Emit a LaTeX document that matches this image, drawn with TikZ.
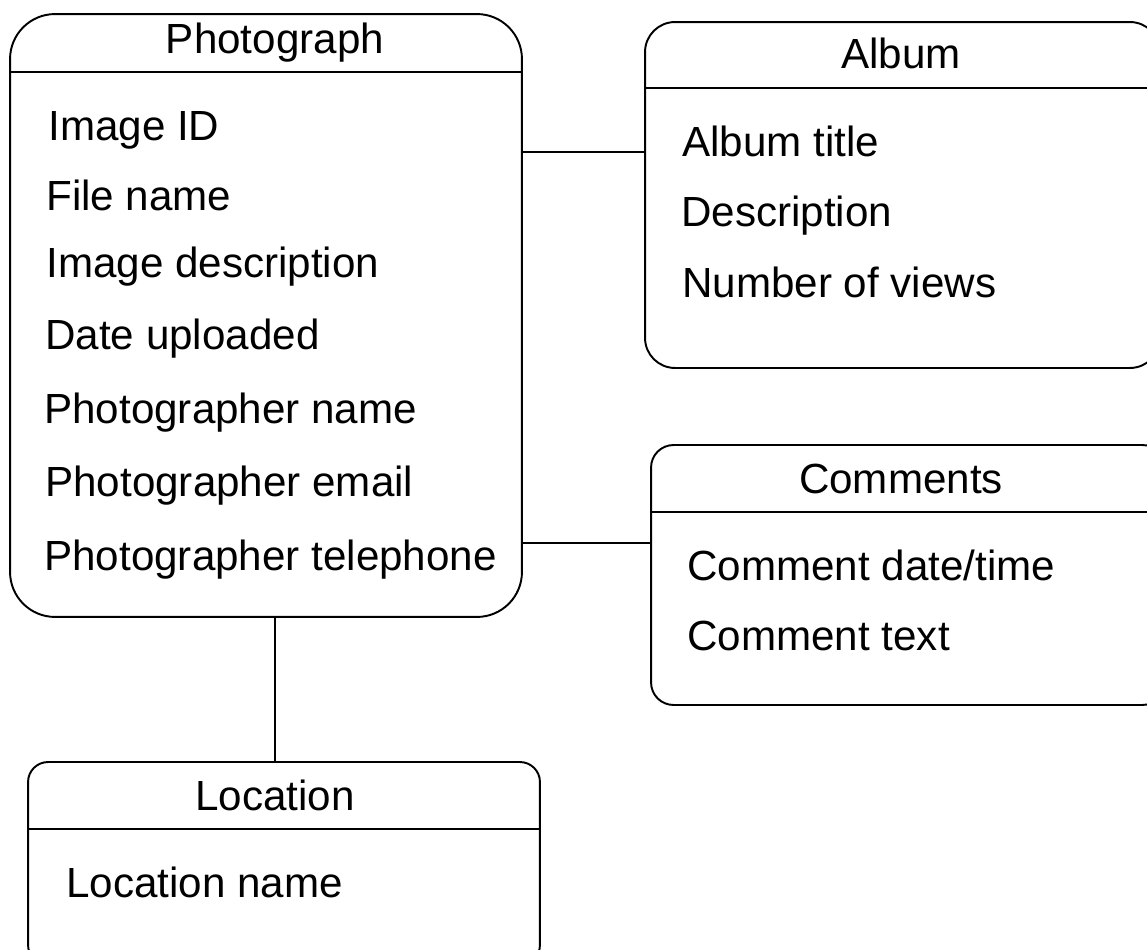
\documentclass[tikz,border=0pt]{standalone}
\usepackage{fontspec}
\setmainfont{Liberation Sans}
\usepackage{tikz}

\begin{document}
\begin{tikzpicture}[x=0.02cm,y=-0.02cm]
  \tikzset{
entity/.style={draw,
  line width=1.1pt,
    rectangle,
    inner sep=0pt},
title/.style={anchor=base, inner sep=0pt},
attr/.style={anchor=base west, inner sep=0pt},
}
  \useasboundingbox (0,0) rectangle (1147,950);
  \clip (0,0) rectangle (1147,950);
  \fontsize{24}{28}\selectfont

  % Boxes
  \node [entity, rounded corners=0.9cm, minimum width=10.24cm, minimum height=12.06cm] (photo) at (266,315.5) {};
  \node [entity, rounded corners=0.6cm, minimum width=10.3cm, minimum height=6.92cm] (album) at (902.5,195) {};
  \node [entity, rounded corners=0.45cm, minimum width=10.28cm, minimum height=5.2cm] (comm) at (908,575) {};
  \node [entity, rounded corners=0.4cm, minimum width=10.24cm, minimum height=4.06cm] (loc) at (284,863.5) {};

  % Titles
  \node [title] (ptitle) at (275,53) {Photograph};
  \node [title] (atitle) at (901,69) {Album};
  \node [title] (ctitle) at (901,493) {Comments};
  \node [title] (ltitle) at (275,810) {Location};

  % Header lines
  \draw [line width=0.9pt] (photo.west |- 0,72) -- (photo.east |- 0,72);
  \draw [line width=0.9pt] (album.west |- 0,88) -- (album.east |- 0,88);
  \draw [line width=0.9pt] (comm.west |- 0,512) -- (comm.east |- 0,512);
  \draw [line width=0.9pt] (loc.west |- 0,829) -- (loc.east |- 0,829);

  % Attributes
  \node [attr] (pimg) at (48,140) {Image ID};
  \node [attr] (pfile) at (46,210) {File name};
  \node [attr] (pdesc) at (46,277) {Image description};
  \node [attr] (pdate) at (45,349) {Date uploaded};
  \node [attr] (pname) at (44,423) {Photographer name};
  \node [attr] (pmail) at (45,496) {Photographer email};
  \node [attr] (ptel) at (44,570) {Photographer telephone};

  \node [attr] (atit) at (682,156) {Album title};
  \node [attr] (adesc) at (681,226) {Description};
  \node [attr] (aview) at (682,297) {Number of views};

  \node [attr] (cdate) at (687,580) {Comment date/time};
  \node [attr] (ctext) at (687,650) {Comment text};

  \node [attr] (lname) at (66,897) {Location name};

  % Links
  \draw [line width=0.9pt] (photo.east |- 0,152) -- (album.west |- 0,152);
  \draw [line width=0.9pt] (photo.east |- 0,543) -- (comm.west |- 0,543);
  \draw [line width=0.9pt] (photo.south -| ltitle) -- (loc.north -| ltitle);
\end{tikzpicture}
\end{document}
